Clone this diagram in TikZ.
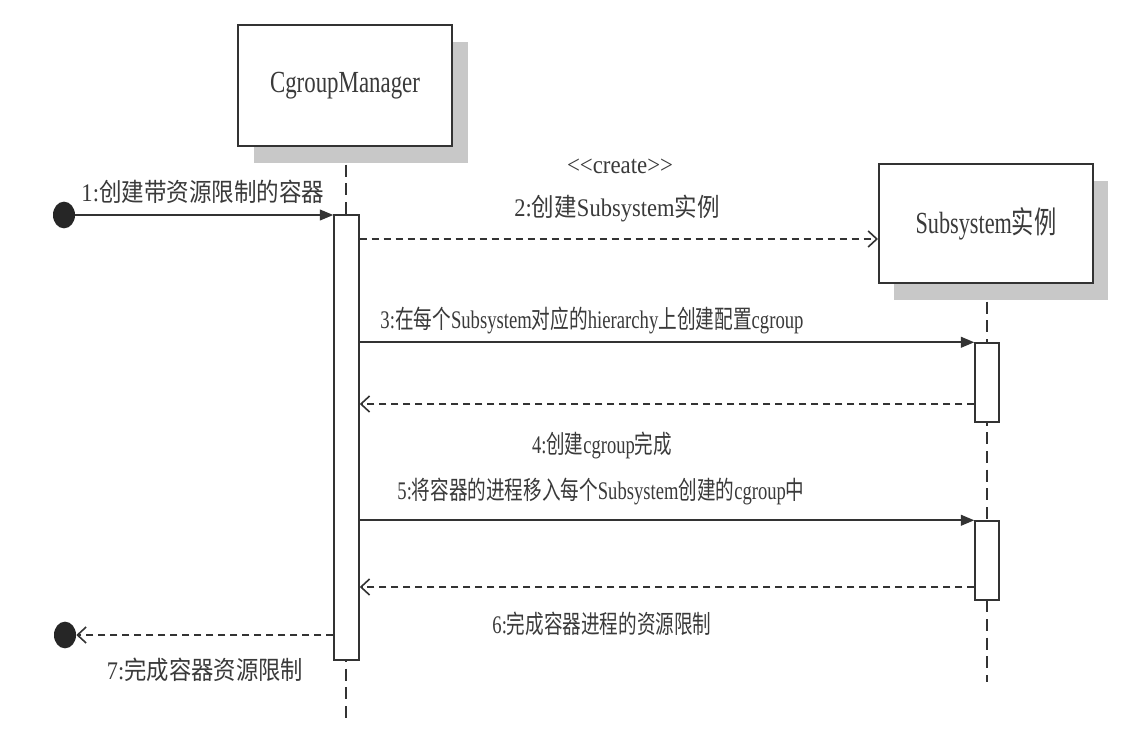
\documentclass[tikz,border=0pt]{standalone}
\usepackage{fontspec}
\usepackage{graphicx}
\setmainfont{Liberation Serif}
\newfontfamily\cjk{Noto Sans CJK SC}
\usetikzlibrary{arrows.meta,shapes.geometric}
\newdimen\pxu \pxu=0.75pt
\newcommand{\fitw}[2]{\resizebox{#1\pxu}{\height}{#2}}
\newcommand{\zh}[1]{{\cjk #1}}
\definecolor{linec}{HTML}{333333}
\definecolor{textc}{HTML}{3A3A3A}
\definecolor{shadowc}{HTML}{C8C8C8}
\begin{document}
\begin{tikzpicture}[x=0.75pt,y=-0.75pt,
  objbox/.style={draw=linec, fill=white, line width=1.5pt, minimum width=160.5pt, inner sep=0pt, text=textc, font=\fontsize{23}{25}\selectfont},
  shadowbox/.style={fill=shadowc, draw=none, minimum width=160.5pt, inner sep=0pt},
  actbar/.style={draw=linec, fill=white, line width=1.1pt, inner sep=0pt},
  lifeline/.style={draw=linec, line width=0.9pt, dash pattern=on 9pt off 5pt},
  enddot/.style={ellipse, fill=black!85, draw=none, minimum width=16.5pt, minimum height=20pt, inner sep=0pt},
  callmsg/.style={draw=linec, line width=1.3pt, -{Triangle[length=10pt,width=8pt]}},
  retmsg/.style={draw=linec, line width=1.3pt, dash pattern=on 5.5pt off 3.5pt, -{Straight Barb[length=6.5pt,width=12pt,line width=1.2pt]}},
  lbl/.style={text=textc, inner sep=0pt, font=\fontsize{19}{21}\selectfont}
]
\useasboundingbox (0,0) rectangle (1122,740);
\fill[white] (0,0) rectangle (1122,740);

% lifelines
\coordinate (cmTop) at (346,146);
\coordinate (cmEnd) at (346,720);
\coordinate (ssTop) at (987,283);
\coordinate (ssEnd) at (987,682);
\draw[lifeline] (cmTop) -- (cmEnd);
\draw[lifeline] (ssTop) -- (ssEnd);

% objects
\node[shadowbox, minimum height=90.75pt] (cmS) at (361,102) {};
\node[objbox, minimum height=90.75pt] (cm) at (345,85.5) {\fitw{150}{CgroupManager}};
\node[shadowbox, minimum height=89.25pt] (ssS) at (1001,240.5) {};
\node[objbox, minimum height=89.25pt] (ss) at (986,223.5) {\fitw{141}{Subsystem\zh{实例}}};

% activation bars
\node[actbar, minimum width=18.75pt, minimum height=333.75pt] (barA) at (346.5,437.5) {};
\node[actbar, minimum width=18pt, minimum height=59.25pt] (b1) at (987,382.5) {};
\node[actbar, minimum width=18pt, minimum height=59.25pt] (b2) at (987,560.5) {};

% start / end dots
\node[enddot] (d1) at (64,215) {};
\node[enddot] (d2) at (65,635) {};

% message rows
\coordinate (y2) at (0,239);
\coordinate (y4) at (0,404);
\coordinate (y6) at (0,587);
\coordinate (y7) at (0,635);

\draw[callmsg] (d1.east) -- (d1 -| barA.west);
\draw[retmsg] (y2 -| barA.east) -- (y2 -| ss.west);
\draw[callmsg] (b1.north -| barA.east) -- (b1.north west);
\draw[retmsg] (y4 -| b1.west) -- (y4 -| barA.east);
\draw[callmsg] (b2.north -| barA.east) -- (b2.north west);
\draw[retmsg] (y6 -| b2.west) -- (y6 -| barA.east);
\draw[retmsg] (y7 -| barA.west) -- (d2.east);

% labels
\node[lbl] (l1) at (203,192) {\fitw{243}{1:\zh{创建带资源限制的容器}}};
\node[lbl] (lc) at (620,166) {\fitw{106}{<\kern0pt<create>\kern0pt>}};
\node[lbl] (l2) at (617,208) {\fitw{205}{2:\zh{创建}Subsystem\zh{实例}}};
\node[lbl] (l3) at (592,320) {\fitw{423}{3:\zh{在每个}Subsystem\zh{对应的}hierarchy\zh{上创建配置}cgroup}};
\node[lbl] (l4) at (602,445) {\fitw{140}{4:\zh{创建}cgroup\zh{完成}}};
\node[lbl] (l5) at (601,491) {\fitw{407}{5:\zh{将容器的进程移入每个}Subsystem\zh{创建的}cgroup\zh{中}}};
\node[lbl] (l6) at (602,624) {\fitw{219}{6:\zh{完成容器进程的资源限制}}};
\node[lbl] (l7) at (205,670) {\fitw{196}{7:\zh{完成容器资源限制}}};
\end{tikzpicture}
\end{document}
